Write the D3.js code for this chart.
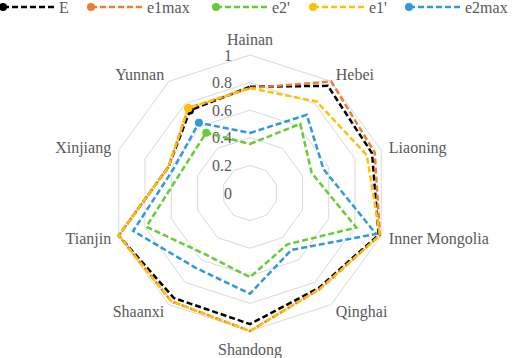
<!DOCTYPE html>
<html lang="en">
<head>
    <meta charset="UTF-8">
    <title>Radar</title>
    <style>
        body { margin: 0; background: #fff; }
        svg { display: block; }
        text { font-family: "Liberation Serif", "Times New Roman", serif; font-size: 16px; fill: #595959; }
    </style>
</head>
<body>
<svg id="chart"></svg>
<script src="https://d3js.org/d3.v7.min.js"></script>
<script>
    const provinces = ["Hainan", "Hebei", "Liaoning", "Inner Mongolia", "Qinghai", "Shandong", "Shaanxi", "Tianjin", "Xinjiang", "Yunnan"];
    const ringTicks = [0, 0.2, 0.4, 0.6, 0.8, 1];

    const seriesNames = ["E", "e1max", "e2'", "e1'", "e2max"];
    const seriesColors = ["#000000", "#ed7d31", "#66cc33", "#ffc000", "#2e9ad8"];

    const E = [0.77, 0.96, 0.93, 0.98, 0.85, 0.95, 0.94, 1.0, 0.62, 0.74];
    const e1max = [0.76, 1.0, 0.95, 0.99, 0.86, 1.0, 0.97, 1.0, 0.62, 0.76];
    const e2p = [0.355, 0.62, 0.47, 0.81, 0.46, 0.61, 0.55, 0.79, 0.52, 0.54];
    const e1p = [0.76, 0.82, 0.89, 0.99, 0.86, 1.0, 0.97, 1.0, 0.62, 0.76];
    const e2max = [0.435, 0.70, 0.56, 0.96, 0.51, 0.73, 0.67, 0.89, 0.58, 0.63];

    const seriesValues = [E, e1max, e2p, e1p, e2max];

    const width = 512, height = 358;
    const cx = 250, cy = 193, R = 138;

    const svg = d3.select("#chart").attr("width", width).attr("height", height);
    const g = svg.append("g").attr("transform", `translate(${cx},${cy})`);

    const r = d3.scaleLinear().domain([0, 1]).range([0, R]);
    const angle = d3.scalePoint().domain(provinces).range([0, 2 * Math.PI * (provinces.length - 1) / provinces.length]);

    // grid decagons
    const ring = d3.lineRadial()
        .angle(d => angle(d))
        .curve(d3.curveLinearClosed);

    g.append("g").selectAll("path")
        .data(ringTicks.filter(t => t > 0))
        .join("path")
        .attr("d", t => ring.radius(r(t))(provinces))
        .attr("fill", "none")
        .attr("stroke", "#d9d9d9")
        .attr("stroke-width", 1);

    // ring value labels
    g.append("g").selectAll("text")
        .data(ringTicks)
        .join("text")
        .attr("x", -18)
        .attr("y", t => -r(t))
        .attr("dy", "0.35em")
        .attr("text-anchor", "end")
        .text(t => t);

    // category labels
    g.append("g").selectAll("text")
        .data(provinces)
        .join("text")
        .attr("x", d => (R + 8) * Math.sin(angle(d)))
        .attr("y", d => {
            const c = Math.cos(angle(d));
            if (c > 0.99) return -(R + 16);
            if (c < -0.99) return R + 18;
            return -(R + 8) * c;
        })
        .attr("dy", "0.35em")
        .attr("text-anchor", d => {
            const s = Math.sin(angle(d));
            return s > 0.1 ? "start" : (s < -0.1 ? "end" : "middle");
        })
        .text(d => d);

    // series
    const line = d3.lineRadial()
        .angle((d, i) => angle(provinces[i]))
        .radius(d => r(d))
        .curve(d3.curveLinearClosed);

    const sg = g.append("g").selectAll("g")
        .data(seriesValues)
        .join("g");

    sg.append("path")
        .attr("d", d => line(d))
        .attr("fill", "none")
        .attr("stroke", (d, i) => seriesColors[i])
        .attr("stroke-width", 2.5)
        .attr("stroke-dasharray", "6,3");

    // marker on the last category
    const last = provinces.length - 1;
    sg.append("circle")
        .attr("cx", d => r(d[last]) * Math.sin(angle(provinces[last])))
        .attr("cy", d => -r(d[last]) * Math.cos(angle(provinces[last])))
        .attr("r", 4)
        .attr("fill", (d, i) => seriesColors[i]);

    // legend
    const legendX = [3, 91, 216, 313, 409];
    const legend = svg.append("g").selectAll("g")
        .data(seriesNames)
        .join("g")
        .attr("transform", (d, i) => `translate(${legendX[i]},7)`);

    legend.append("line")
        .attr("x1", 0).attr("x2", 52)
        .attr("stroke", (d, i) => seriesColors[i])
        .attr("stroke-width", 2.5)
        .attr("stroke-dasharray", "6,3");

    legend.append("circle")
        .attr("r", 4)
        .attr("fill", (d, i) => seriesColors[i]);

    legend.append("text")
        .attr("x", 56)
        .attr("dy", "0.35em")
        .text(d => d);
</script>
</body>
</html>
